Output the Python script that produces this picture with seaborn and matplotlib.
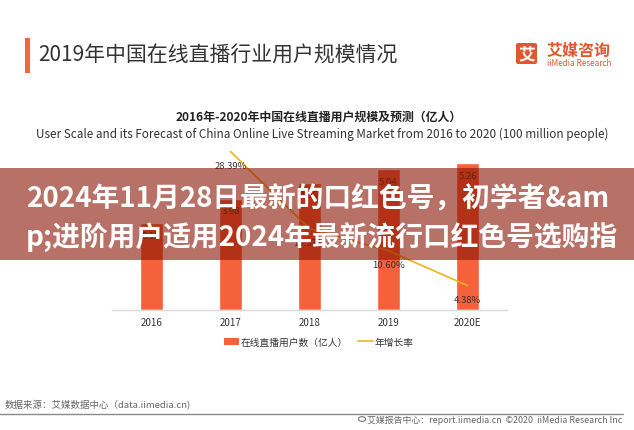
import matplotlib
matplotlib.use("Agg")
import matplotlib.pyplot as plt
from matplotlib.patches import Rectangle, FancyBboxPatch, Patch
from matplotlib.lines import Line2D
import seaborn as sns
import pandas as pd

# ---------------- data ----------------
years = ["2016", "2017", "2018", "2019", "2020E"]
users = [3.10, 3.98, 4.56, 5.04, 5.26]          # 亿人
growth_years = ["2017", "2018", "2019", "2020E"]
growth = [0.2839, 0.1457, 0.1060, 0.0438]       # 年增长率

title_main = "2019年中国在线直播行业用户规模情况"
chart_title_cn = "2016年-2020年中国在线直播用户规模及预测（亿人）"
chart_title_en = "User Scale and its Forecast of China Online Live Streaming Market from 2016 to 2020 (100 million people)"
legend_bar = "在线直播用户数（亿人）"
legend_line = "年增长率"
source_text = "数据来源：艾媒数据中心（data.iimedia.cn)"
footer_text = "艾媒报告中心：report.iimedia.cn  ©2020  iiMedia Research Inc"
banner_lines = ["2024年11月28日最新的口红色号，初学者&am",
                "p;进阶用户适用2024年最新流行口红色号选购指"]

sns.set_theme(style="white")
plt.rcParams["font.family"] = ["Noto Sans CJK SC", "DejaVu Sans"]

W, H = 634, 431
fig = plt.figure(figsize=(W / 100, H / 100), dpi=100)
fig.patch.set_facecolor("white")


def P(x, y):
    return (x / W, 1 - y / H)


BAR = "#F4613A"
LINE = "#F3B21B"
ORANGE = "#E0582E"

# ---------------- chart ----------------
ax = fig.add_axes([112 / W, (H - 311) / H, 395 / W, 167.5 / H])
df = pd.DataFrame({"year": years, "users": users})
sns.barplot(data=df, x="year", y="users", color=BAR, saturation=1,
            width=0.30, ax=ax)
ax.set_ylim(0, 6)
ax.set_xlim(-0.5, len(years) - 0.5)
ax.set_xlabel("")
ax.set_ylabel("")
ax.set_yticks([])
for s in ["top", "left", "right"]:
    ax.spines[s].set_visible(False)
ax.spines["bottom"].set_color("#D9D9D9")
ax.spines["bottom"].set_linewidth(1.0)
ax.tick_params(axis="x", length=0, pad=5, labelsize=7, labelcolor="#333333")

for i, v in enumerate(users):
    ax.annotate(f"{v:.2f}", (i, v), xytext=(0, -12), textcoords="offset pixels",
                ha="center", va="center", fontsize=6.8, color="#333333")

ax2 = ax.twinx()
gx = [years.index(y) for y in growth_years]
sns.lineplot(x=gx, y=growth, ax=ax2, color=LINE, linewidth=1.2)
ax2.set_ylim(0, 0.30)
ax2.set_yticks([])
ax2.set_ylabel("")
for s in ["top", "left", "right", "bottom"]:
    ax2.spines[s].set_visible(False)
for x, g in zip(gx, growth):
    ax2.annotate(f"{g * 100:.2f}%", (x, g), xytext=(0, -14), textcoords="offset pixels",
                 ha="center", va="center", fontsize=6.8, color="#333333")

# legend
handles = [Patch(facecolor=BAR, edgecolor="none"),
           Line2D([0], [0], color=LINE, lw=1.2)]
fig.legend(handles, [legend_bar, legend_line], loc="center",
           bbox_to_anchor=P(319, 343), ncol=2, frameon=False, fontsize=7,
           handlelength=1.5, handleheight=0.8, handletextpad=0.15,
           columnspacing=1.1, labelcolor="#333333")

# ---------------- header ----------------
fig.patches.append(Rectangle(P(25, 74), 5 / W, 35 / H, transform=fig.transFigure,
                             facecolor="#EE6A3C", edgecolor="none"))
fig.text(*P(38, 56), title_main, fontsize=15, color="#333333", ha="left", va="center")

fig.patches.append(FancyBboxPatch(P(516, 65), 21 / W, 21 / H,
                                  boxstyle="round,pad=0,rounding_size=0.004",
                                  transform=fig.transFigure,
                                  facecolor=ORANGE, edgecolor="none"))
fig.text(*P(526.5, 54), "艾", fontsize=12, color="white", weight="bold",
         ha="center", va="center")
fig.text(*P(547, 51), "艾媒咨询", fontsize=11.5, color=ORANGE, weight="bold",
         ha="left", va="center")
fig.text(*P(547, 63.5), "iiMedia Research", fontsize=5.9, color=ORANGE,
         ha="left", va="center")

fig.text(*P(319, 117), chart_title_cn, fontsize=8.6, color="#222222",
         weight="bold", ha="center", va="center")
fig.text(*P(322, 134), chart_title_en, fontsize=8.45, color="#333333",
         ha="center", va="center")

# ---------------- footer ----------------
fig.text(*P(5, 405), source_text, fontsize=6.8, color="#666666",
         ha="left", va="center")
fig.add_artist(Line2D([0, 623 / W], [1 - 415 / H, 1 - 415 / H],
                      transform=fig.transFigure, color="#8A8A8A", lw=1.0))
fig.text(*P(622, 420), footer_text, fontsize=6.4, color="#666666",
         ha="right", va="center")
fig.patches.append(plt.Circle(P(362, 420), 3.5 / W, transform=fig.transFigure,
                              facecolor="none", edgecolor="#777777", lw=0.8))

# ---------------- banner overlay ----------------
fig.patches.append(Rectangle((0, 1 - 261 / H), 1, 92 / H, transform=fig.transFigure,
                             facecolor=(137 / 255, 18 / 255, 0), alpha=0.6,
                             edgecolor="none", zorder=10))
fig.text(*P(319, 199), banner_lines[0], fontsize=20, color="white", weight="bold",
         ha="center", va="center", zorder=11)
fig.text(*P(322, 237), banner_lines[1], fontsize=20, color="white", weight="bold",
         ha="center", va="center", zorder=11)

fig.savefig("out.png", dpi=100, facecolor="white")
